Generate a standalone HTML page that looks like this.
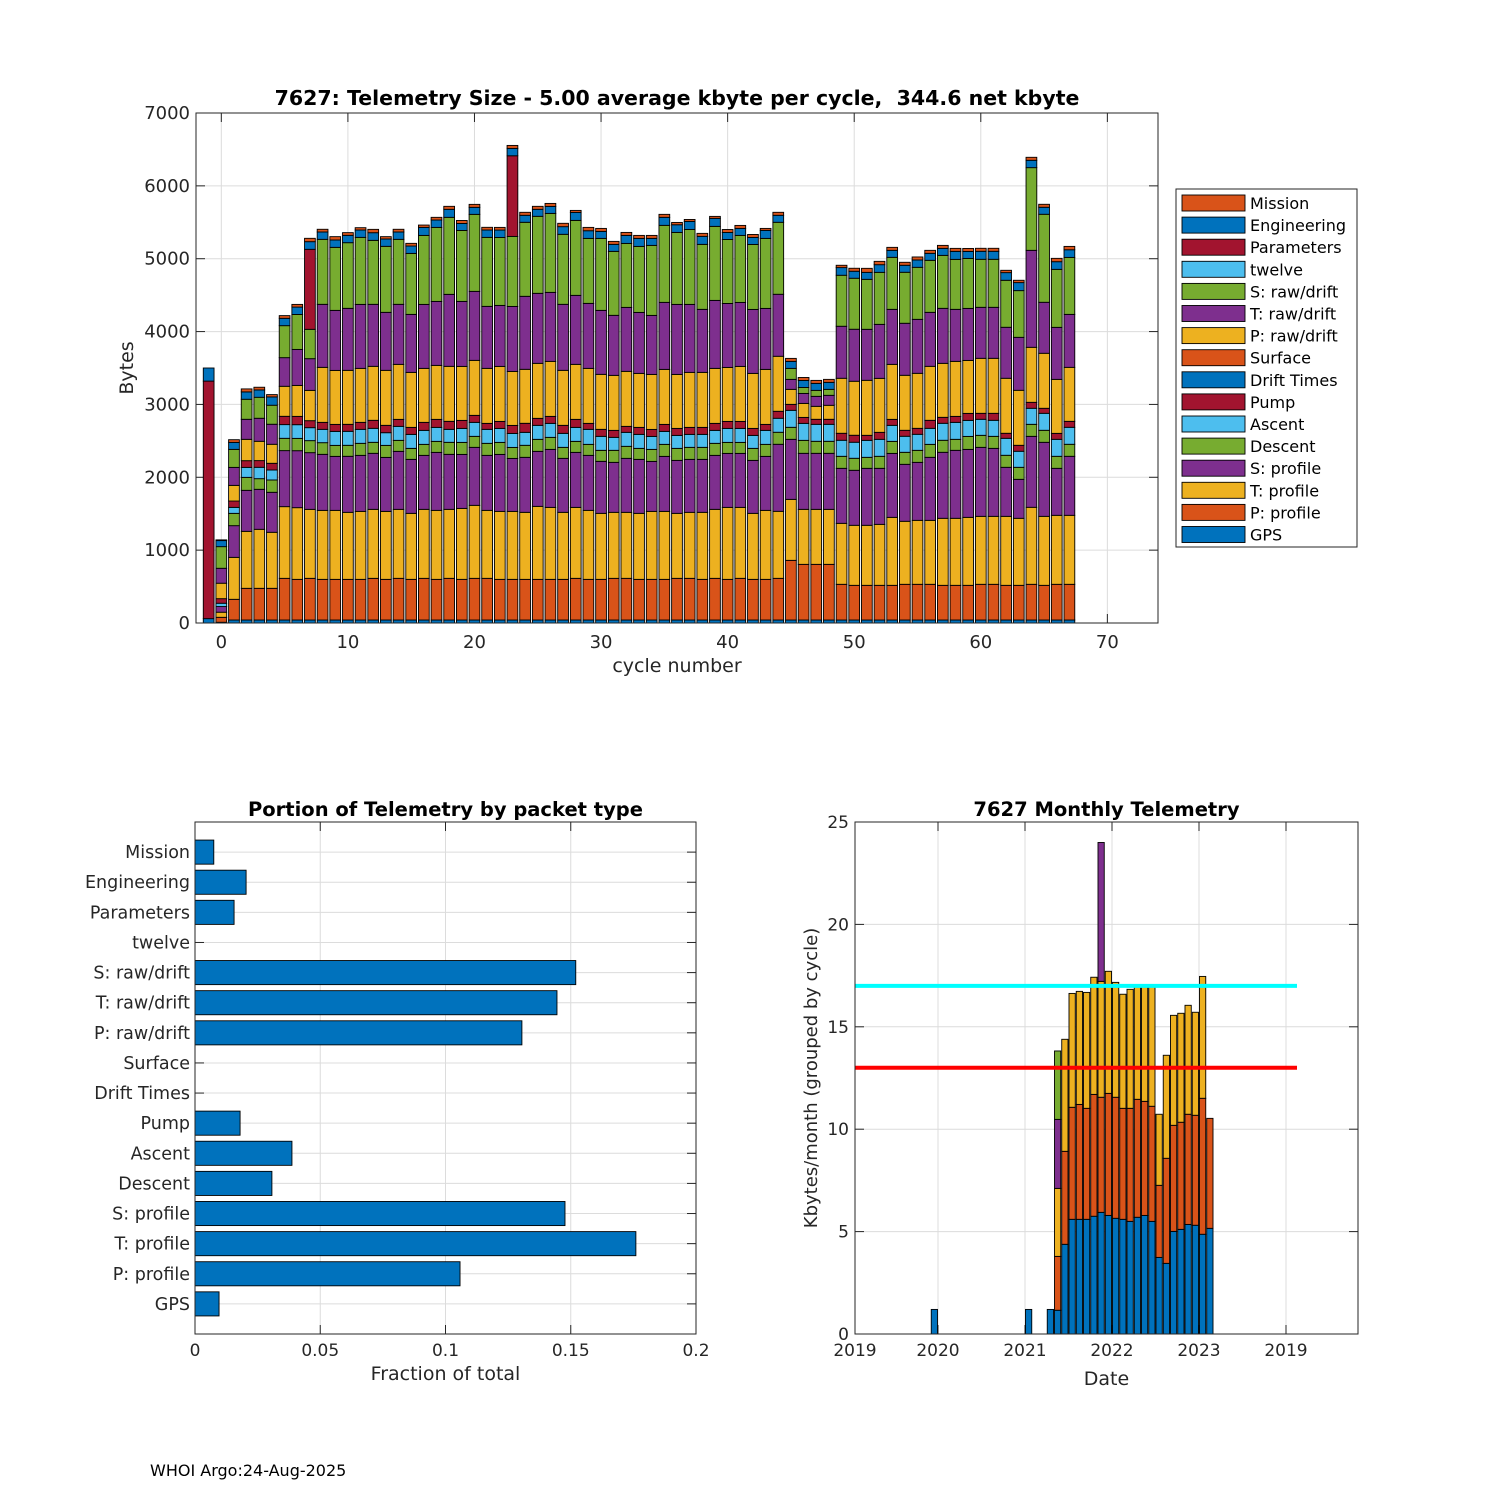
<!DOCTYPE html>
<html><head><meta charset="utf-8"><style>
html,body{margin:0;padding:0;background:#fff;}
svg{display:block;font-family:"DejaVu Sans","Liberation Sans",sans-serif;}
</style></head><body>
<svg id="fig" width="1500" height="1500" viewBox="0 0 1500 1500" xmlns="http://www.w3.org/2000/svg">
<rect width="1500" height="1500" fill="#fff"/>
<g id="top"></g>
<g id="bl"></g>
<g id="br"></g>
<text x="150" y="1476" font-size="16" fill="#000">WHOI Argo:24-Aug-2025</text>
</svg>
<script>
// ===== Top chart data =====
const cycles = [-1,0,1,2,3,4,5,6,7,8,9,10,11,12,13,14,15,16,17,18,19,20,21,22,23,24,25,26,27,28,29,30,31,32,33,34,35,36,37,38,39,40,41,42,43,44,45,46,47,48,49,50,51,52,53,54,55,56,57,58,59,60,61,62,63,64,65,66,67];
const seriesNames = ["GPS","P: profile","T: profile","S: profile","Descent","Ascent","Pump","Drift Times","Surface","P: raw/drift","T: raw/drift","S: raw/drift","twelve","Parameters","Engineering","Mission"];
const gps = [60,10,41,41,41,41,41,41,41,41,41,41,41,41,41,41,41,41,41,41,41,41,41,41,41,41,41,41,41,41,41,41,41,41,41,41,41,41,41,41,41,41,41,41,41,41,41,41,41,41,41,41,41,41,41,41,41,41,41,41,41,41,41,41,41,41,41,41,41];
const pProfile = [0,68,284,435,435,435,572,558,572,558,558,558,558,572,558,572,558,572,558,572,558,572,572,558,558,558,558,558,558,572,558,558,572,572,558,558,558,572,572,558,572,558,572,558,558,572,819,764,764,764,490,476,476,476,476,490,490,490,476,476,476,490,490,476,476,490,476,490,490];
const tProfile = [0,70,576,782,810,769,984,984,947,947,947,920,933,947,933,947,906,947,947,947,974,1002,933,933,933,920,1002,988,920,974,947,906,906,906,906,933,933,892,906,920,947,988,974,906,947,920,837,755,755,755,837,824,824,837,933,865,878,878,920,920,933,933,933,947,920,1057,947,947,947];
const sProfile = [0,78,435,563,549,549,769,782,778,769,741,769,769,769,741,796,741,741,796,755,741,796,755,782,727,755,755,796,741,755,755,714,686,741,741,686,755,727,727,727,741,741,741,727,741,920,824,769,769,769,755,755,782,769,878,782,796,865,906,933,933,947,933,673,535,974,1016,645,810];
const descent = [0,0,169,178,146,169,169,169,165,160,151,151,165,151,165,151,151,151,151,165,165,151,165,165,151,165,165,165,151,151,151,151,165,165,151,165,165,165,165,165,165,151,151,165,165,165,165,178,165,165,165,165,151,165,165,165,165,178,165,151,178,165,165,165,165,165,165,165,165];
const ascent = [0,45,82,137,156,137,188,188,178,183,192,192,192,192,174,192,192,192,192,178,192,192,192,192,192,178,192,192,192,192,206,192,178,192,192,178,178,178,178,178,178,192,192,178,192,192,233,233,233,233,220,220,233,233,220,220,220,220,233,233,220,220,220,233,220,220,233,233,233];
const pump = [0,63,87,92,92,92,114,114,96,96,96,96,96,110,101,96,96,110,110,110,110,96,82,96,110,124,96,96,110,110,82,96,96,82,96,96,96,96,96,96,96,96,96,96,82,96,82,82,69,69,96,96,69,96,82,82,82,110,82,82,96,82,96,69,82,82,69,82,82];
const driftTimes = [0,0,0,0,0,0,0,0,0,0,0,0,0,0,0,0,0,0,0,0,0,0,0,0,0,0,0,0,0,0,0,0,0,0,0,0,0,0,0,0,0,0,0,0,0,0,0,0,0,0,0,0,0,0,0,0,0,0,0,0,0,0,0,0,0,0,0,0,0];
const surface = [0,0,0,0,0,0,0,0,0,0,0,0,0,0,0,0,0,0,0,0,0,0,0,0,0,0,0,0,0,0,0,0,0,0,0,0,0,0,0,0,0,0,0,0,0,0,0,0,0,0,0,0,0,0,0,0,0,0,0,0,0,0,0,0,0,0,0,0,0];
const pRaw = [0,212,215,293,265,261,412,425,416,755,741,741,741,741,755,755,755,741,741,755,741,755,755,755,741,741,755,755,755,755,755,755,755,755,741,755,755,741,755,755,755,741,755,755,755,755,206,192,178,192,755,741,755,741,755,755,755,741,741,755,727,755,755,755,755,755,755,741,741];
const tRaw = [0,205,247,275,316,275,393,494,435,865,824,851,878,851,796,824,796,878,878,988,892,947,851,837,892,1002,961,947,906,947,892,878,824,878,837,810,920,961,933,865,933,878,878,878,837,851,137,137,137,137,714,714,700,741,755,714,741,741,755,714,714,700,700,700,727,1331,700,714,727];
const sRaw = [0,297,247,275,288,261,439,480,403,892,865,901,920,878,906,892,837,947,1016,1057,974,1057,947,933,961,1016,1057,1084,961,1029,892,988,878,878,906,961,1057,988,1029,892,1016,878,920,892,961,988,151,82,82,82,700,700,686,714,714,700,714,714,727,686,686,659,659,645,641,1135,1208,796,782];
const twelve = [0,0,0,0,0,0,0,0,0,0,0,0,0,0,0,0,0,0,0,0,0,0,0,0,0,0,0,0,0,0,0,0,0,0,0,0,0,0,0,0,0,0,0,0,0,0,0,0,0,0,0,0,0,0,0,0,0,0,0,0,0,0,0,0,0,0,0,0,0];
const parameters = [3260,0,0,0,0,0,0,0,1098,0,0,0,0,0,0,0,0,0,0,0,0,0,0,0,1107,0,0,0,0,0,0,0,0,0,0,0,0,0,0,0,0,0,0,0,0,0,0,0,0,0,0,0,0,0,0,0,0,0,0,0,0,0,0,0,0,0,0,0,0];
const engineering = [180,83,96,101,101,114,101,101,105,101,101,101,101,105,101,101,101,110,101,110,96,96,101,101,101,96,96,96,105,110,105,96,96,110,110,96,110,105,110,110,110,96,96,96,110,96,96,96,96,96,105,96,96,105,96,96,101,96,96,110,96,110,110,105,110,101,96,105,105];
const mission = [0,10,37,41,37,32,37,37,46,37,46,37,32,46,32,37,37,32,37,41,41,41,37,37,41,41,41,41,46,27,46,41,41,41,41,41,41,32,27,41,27,41,41,41,27,41,41,41,41,41,32,41,55,46,41,41,41,41,41,41,41,41,41,32,32,41,41,46,46];
const yTicksTop = [0,1000,2000,3000,4000,5000,6000,7000];
const xTicksTop = [0,10,20,30,40,50,60,70];

// ===== Bottom-left data =====
const packetTypes = ["Mission","Engineering","Parameters","twelve","S: raw/drift","T: raw/drift","P: raw/drift","Surface","Drift Times","Pump","Ascent","Descent","S: profile","T: profile","P: profile","GPS"];
const fractions = [0.0075,0.0204,0.0156,0,0.152,0.1445,0.1305,0,0,0.018,0.0387,0.0307,0.1477,0.176,0.1058,0.0096];
const xTicksBL = [0,0.05,0.1,0.15,0.2];
const xTickLabelsBL = ["0","0.05","0.1","0.15","0.2"];

// ===== Bottom-right data =====
const months = ["2019-12","2021-01","2021-04","2021-05","2021-06","2021-07","2021-08","2021-09","2021-10","2021-11","2021-12","2022-01","2022-02","2022-03","2022-04","2022-05","2022-06","2022-07","2022-08","2022-09","2022-10","2022-11","2022-12","2023-01","2023-02"];
const mBlue   = [1.2,1.2,1.2,1.16,4.38,5.6,5.6,5.6,5.75,5.94,5.79,5.65,5.6,5.5,5.7,5.79,5.5,3.74,3.45,5.01,5.11,5.35,5.31,4.87,5.16];
const mOrange = [0,0,0,2.63,4.54,5.47,5.61,5.42,5.95,5.62,5.96,5.91,5.42,5.52,5.76,5.57,5.62,3.52,5.13,5.18,5.23,5.38,5.37,6.64,5.37];
const mYellow = [0,0,0,3.32,5.47,5.56,5.52,5.66,5.72,5.66,5.96,5.61,5.57,5.81,5.54,5.64,5.84,3.47,5.03,5.37,5.32,5.32,5.03,5.95,0];
const mPurple = [0,0,0,3.37,0,0,0,0,0,6.78,0,0,0,0,0,0,0,0,0,0,0,0,0,0,0];
const mGreen  = [0,0,0,3.34,0,0,0,0,0,0,0,0,0,0,0,0,0,0,0,0,0,0,0,0,0];
const cyanLevel = 17;
const redLevel = 13;
const yTicksBR = [0,5,10,15,20,25];
const xTicksBR = [2019.046,2020,2021,2022,2023,2024];
const xTickLabelsBR = ["2019","2020","2021","2022","2023","2019"];

// ===== helpers =====
const NS = "http://www.w3.org/2000/svg";
function mk(parent, tag, attrs, text){
  const e = document.createElementNS(NS, tag);
  for (const k in attrs) e.setAttribute(k, attrs[k]);
  if (text !== undefined) e.textContent = text;
  parent.appendChild(e);
  return e;
}
const C = {blue:"#0072BD",orange:"#D95319",yellow:"#EDB120",purple:"#7E2F8E",green:"#77AC30",lblue:"#4DBEEE",red:"#A2142F"};
const TXT = "#262626", GRID = "#dcdcdc";

// ===== Top chart =====
(function(){
  const g = document.getElementById('top');
  const L=196,R=1158,T=113,B=623;
  const xMin=-2,xMax=74,yMax=7000;
  const xs = v => L + (v-xMin)/(xMax-xMin)*(R-L);
  const ys = v => B - v/yMax*(B-T);
  const allSeries = [gps,pProfile,tProfile,sProfile,descent,ascent,pump,driftTimes,surface,pRaw,tRaw,sRaw,twelve,parameters,engineering,mission];
  const colors = [C.blue,C.orange,C.yellow,C.purple,C.green,C.lblue,C.red,C.blue,C.orange,C.yellow,C.purple,C.green,C.lblue,C.red,C.blue,C.orange];
  mk(g,'rect',{x:L,y:T,width:R-L,height:B-T,fill:'#fff'});
  for (const t of yTicksTop){
    const gl = mk(g,'line',{x1:L,x2:R,y1:ys(t),y2:ys(t),stroke:GRID,'stroke-width':1});
    
    
    const lb = mk(g,'text',{x:L-6,y:ys(t)+6,'text-anchor':'end','font-size':18,fill:TXT},String(t));
    
    
    mk(g,'line',{x1:L,x2:L+9,y1:ys(t),y2:ys(t),stroke:TXT});
    mk(g,'line',{x1:R,x2:R-9,y1:ys(t),y2:ys(t),stroke:TXT});
  }
  for (const t of xTicksTop){
    const gl = mk(g,'line',{x1:xs(t),x2:xs(t),y1:T,y2:B,stroke:GRID,'stroke-width':1});
    
    
    const lb = mk(g,'text',{x:xs(t),y:B+25,'text-anchor':'middle','font-size':18,fill:TXT},String(t));
    
    
    mk(g,'line',{x1:xs(t),x2:xs(t),y1:B,y2:B-9,stroke:TXT});
    mk(g,'line',{x1:xs(t),x2:xs(t),y1:T,y2:T+9,stroke:TXT});
  }
  const bw = 0.85;
  cycles.forEach((c,i)=>{
    let acc = 0;
    allSeries.forEach((s,k)=>{
      const v = s[i];
      if (v>0){
        const r = mk(g,'rect',{x:xs(c-bw/2),y:ys(acc+v),width:xs(c+bw/2)-xs(c-bw/2),height:ys(acc)-ys(acc+v),fill:colors[k],stroke:'#000','stroke-width':0.9});
        
        
      }
      acc += v;
    });
  });
  mk(g,'rect',{x:L,y:T,width:R-L,height:B-T,fill:'none',stroke:TXT,'stroke-width':1});
  const tt = mk(g,'text',{x:(L+R)/2,y:105,'text-anchor':'middle','font-size':20.5,'font-weight':'bold',fill:'#000'},"7627: Telemetry Size - 5.00 average kbyte per cycle,  344.6 net kbyte");
  tt.setAttribute('xml:space','preserve');
  tt.style.whiteSpace = 'pre';
  
  
  const xl = mk(g,'text',{x:(L+R)/2,y:672,'text-anchor':'middle','font-size':19,fill:TXT},"cycle number");
  
  
  const yl = mk(g,'text',{x:0,y:0,'text-anchor':'middle','font-size':19,fill:TXT,transform:`translate(133,${(T+B)/2}) rotate(-90)`},"Bytes");
  
  
  const lg = mk(g,'g',{});
  
  
  mk(lg,'rect',{x:1176,y:189,width:181,height:358,fill:'#fff',stroke:TXT,'stroke-width':1});
  for (let j=0;j<16;j++){
    const k = 15-j;
    const y = 203 + j*22.1;
    const sw = mk(lg,'rect',{x:1182,y:y-8,width:63,height:16,fill:colors[k],stroke:'#000','stroke-width':0.9});
    
    
    const lt = mk(lg,'text',{x:1250,y:y+6,'font-size':16,fill:'#000'},seriesNames[k]);
    
    
  }
})();

// ===== Bottom-left chart =====
(function(){
  const g = document.getElementById('bl');
  const L=195,R=696,T=822,B=1334;
  const xs = v => L + v/0.2*(R-L);
  const n = packetTypes.length;
  const step = (B-T)/(n+1);
  const yc = i => T + step*(i+1);
  mk(g,'rect',{x:L,y:T,width:R-L,height:B-T,fill:'#fff'});
  xTicksBL.forEach((t,i)=>{
    const gl = mk(g,'line',{x1:xs(t),x2:xs(t),y1:T,y2:B,stroke:GRID});
    
    
    const lb = mk(g,'text',{x:xs(t),y:B+22,'text-anchor':'middle','font-size':17,fill:TXT},xTickLabelsBL[i]);
    
    
    mk(g,'line',{x1:xs(t),x2:xs(t),y1:B,y2:B-9,stroke:TXT});
    mk(g,'line',{x1:xs(t),x2:xs(t),y1:T,y2:T+9,stroke:TXT});
  });
  packetTypes.forEach((p,i)=>{
    const y = yc(i);
    mk(g,'line',{x1:L,x2:R,y1:y,y2:y,stroke:GRID});
    mk(g,'line',{x1:L,x2:L+9,y1:y,y2:y,stroke:TXT});
    mk(g,'line',{x1:R,x2:R-9,y1:y,y2:y,stroke:TXT});
    const lb = mk(g,'text',{x:L-5,y:y+6,'text-anchor':'end','font-size':17.5,fill:TXT},p);
    
    
  });
  packetTypes.forEach((p,i)=>{
    const v = fractions[i];
    if (v>0){
      const h = step*0.8;
      const r = mk(g,'rect',{x:xs(0),y:yc(i)-h/2,width:xs(v)-xs(0),height:h,fill:C.blue,stroke:'#000','stroke-width':0.9});
      
      
    }
  });
  mk(g,'rect',{x:L,y:T,width:R-L,height:B-T,fill:'none',stroke:TXT});
  const tt = mk(g,'text',{x:(L+R)/2,y:816,'text-anchor':'middle','font-size':19.5,'font-weight':'bold',fill:'#000'},"Portion of Telemetry by packet type");
  
  
  const xl = mk(g,'text',{x:(L+R)/2,y:1380,'text-anchor':'middle','font-size':19,fill:TXT},"Fraction of total");
  
  
})();

// ===== Bottom-right chart =====
(function(){
  const g = document.getElementById('br');
  const L=855,R=1358,T=822,B=1334;
  const xs = v => 938 + (v-2020)*87;
  const ys = v => B - v/25*(B-T);
  const mdate = s => { const [y,m]=s.split('-').map(Number); return y + (m-0.5)/12; };
  mk(g,'rect',{x:L,y:T,width:R-L,height:B-T,fill:'#fff'});
  yTicksBR.forEach(t=>{
    const gl = mk(g,'line',{x1:L,x2:R,y1:ys(t),y2:ys(t),stroke:GRID});
    
    
    const lb = mk(g,'text',{x:L-6,y:ys(t)+6,'text-anchor':'end','font-size':17,fill:TXT},String(t));
    
    
    mk(g,'line',{x1:L,x2:L+9,y1:ys(t),y2:ys(t),stroke:TXT});
    mk(g,'line',{x1:R,x2:R-9,y1:ys(t),y2:ys(t),stroke:TXT});
  });
  xTicksBR.forEach((t,i)=>{
    const gl = mk(g,'line',{x1:xs(t),x2:xs(t),y1:T,y2:B,stroke:GRID});
    
    
    const lb = mk(g,'text',{x:xs(t),y:B+22,'text-anchor':'middle','font-size':17,fill:TXT},xTickLabelsBR[i]);
    
    
    mk(g,'line',{x1:xs(t),x2:xs(t),y1:B,y2:B-9,stroke:TXT});
    mk(g,'line',{x1:xs(t),x2:xs(t),y1:T,y2:T+9,stroke:TXT});
  });
  const stacks = [mBlue,mOrange,mYellow,mPurple,mGreen];
  const cols = [C.blue,C.orange,C.yellow,C.purple,C.green];
  const bw = 0.072;
  months.forEach((m,i)=>{
    const d = mdate(m);
    let acc = 0;
    stacks.forEach((s,k)=>{
      const v = s[i];
      if (v>0){
        const r = mk(g,'rect',{x:xs(d-bw/2),y:ys(acc+v),width:xs(d+bw/2)-xs(d-bw/2),height:ys(acc)-ys(acc+v),fill:cols[k],stroke:'#000','stroke-width':0.9});
        
        
      }
      acc += v;
    });
  });
  const lx2 = 1297;
  const cl = mk(g,'line',{x1:L,x2:lx2,y1:ys(cyanLevel),y2:ys(cyanLevel),stroke:'#00FFFF','stroke-width':4});
  
  
  const rl = mk(g,'line',{x1:L,x2:lx2,y1:ys(redLevel),y2:ys(redLevel),stroke:'#FF0000','stroke-width':4});
  
  
  mk(g,'rect',{x:L,y:T,width:R-L,height:B-T,fill:'none',stroke:TXT});
  const tt = mk(g,'text',{x:(L+R)/2,y:816,'text-anchor':'middle','font-size':19.5,'font-weight':'bold',fill:'#000'},"7627 Monthly Telemetry");
  
  
  const xl = mk(g,'text',{x:(L+R)/2,y:1385,'text-anchor':'middle','font-size':19,fill:TXT},"Date");
  
  
  const yl = mk(g,'text',{x:0,y:0,'text-anchor':'middle','font-size':18,fill:TXT,transform:`translate(817,${(T+B)/2}) rotate(-90)`},"Kbytes/month (grouped by cycle)");
  
  
})();
</script>
</body></html>
